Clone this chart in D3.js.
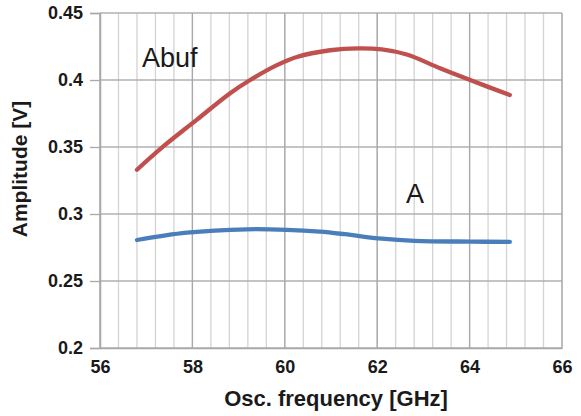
<!DOCTYPE html>
<html>
<head>
<meta charset="utf-8">
<script src="https://cdn.jsdelivr.net/npm/d3@7"></script>
<style>
  html, body { margin: 0; padding: 0; background: #fff; }
  svg { display: block; font-family: "Liberation Sans", Arial, sans-serif; }
</style>
</head>
<body>
<svg id="chart" width="581" height="416"></svg>
<script>
// Buffered output: oscillation frequency (GHz) and amplitude (V)
const abufFreq = [56.8, 57.37, 58.09, 58.81, 59.25, 59.83, 60.26, 60.98, 61.6, 62.1, 62.64, 63.36, 64.0, 64.87];
const abufAmp  = [0.333, 0.3504, 0.3702, 0.390, 0.400, 0.4111, 0.4172, 0.4222, 0.4236, 0.4228, 0.4190, 0.4088, 0.4001, 0.3888];
// Core output: oscillation frequency (GHz) and amplitude (V)
const aFreq = [56.8, 57.88, 59.18, 60.04, 60.76, 61.3, 62.1, 62.81, 64.04, 64.87];
const aAmp  = [0.2806, 0.2861, 0.2886, 0.2882, 0.2868, 0.2849, 0.2816, 0.2800, 0.2794, 0.2792];

const xTicks = [56, 58, 60, 62, 64, 66];
const yTicks = [0.2, 0.25, 0.3, 0.35, 0.4, 0.45];
const xMinor = d3.range(56, 66.001, 0.4).map(v => +v.toFixed(1));

const svg = d3.select("#chart");
const m = { left: 100, right: 19, top: 13, bottom: 68 };
const W = 581, H = 416;

const x = d3.scaleLinear().domain([56, 66]).range([m.left, W - m.right]);
const y = d3.scaleLinear().domain([0.2, 0.45]).range([H - m.bottom, m.top]);

const g = svg.append("g");

// minor vertical grid
g.selectAll("line.vminor").data(xMinor).enter().append("line")
  .attr("x1", d => x(d)).attr("x2", d => x(d))
  .attr("y1", y(0.2)).attr("y2", y(0.45))
  .attr("stroke", "#d3d3d3").attr("stroke-width", 1.3);

// horizontal grid
g.selectAll("line.h").data(yTicks).enter().append("line")
  .attr("x1", x(56)).attr("x2", x(66))
  .attr("y1", d => y(d)).attr("y2", d => y(d))
  .attr("stroke", "#b0b0b0").attr("stroke-width", 1.3);

// major vertical grid
g.selectAll("line.vmajor").data(xTicks).enter().append("line")
  .attr("x1", d => x(d)).attr("x2", d => x(d))
  .attr("y1", y(0.2)).attr("y2", y(0.45))
  .attr("stroke", "#a8a8a8").attr("stroke-width", 1.3);

// axes
const xAxis = d3.axisBottom(x).tickValues(xTicks).tickSize(0).tickPadding(12).tickFormat(d3.format("d"));
const yAxis = d3.axisLeft(y).tickValues(yTicks).tickSize(10).tickPadding(7).tickFormat(d => String(+d.toFixed(2)));

const gx = svg.append("g").attr("transform", `translate(0,${y(0.2)})`).call(xAxis);
gx.select(".domain").attr("stroke", "#a8a8a8").attr("stroke-width", 1.5);
gx.selectAll("text").attr("font-size", 18).attr("font-weight", "bold").attr("fill", "#1a1a1a");

const gy = svg.append("g").attr("transform", `translate(${x(56)},0)`).call(yAxis);
gy.select(".domain").attr("stroke", "#a8a8a8").attr("stroke-width", 1.5);
gy.selectAll(".tick line").attr("stroke", "#a8a8a8").attr("stroke-width", 1.3);
gy.selectAll("text").attr("font-size", 18).attr("font-weight", "bold").attr("fill", "#1a1a1a");

// axis titles
svg.append("text").attr("x", (x(56) + x(66)) / 2 + 5).attr("y", 406)
  .attr("text-anchor", "middle").attr("font-size", 22).attr("font-weight", "bold")
  .attr("fill", "#1a1a1a").text("Osc. frequency [GHz]");
svg.append("text").attr("transform", "translate(27,169) rotate(-90)")
  .attr("text-anchor", "middle").attr("font-size", 21).attr("font-weight", "bold")
  .attr("fill", "#1a1a1a").text("Amplitude [V]");

// curves
const line = d3.line().curve(d3.curveCatmullRom.alpha(0.5));
const series = [
  { f: abufFreq, v: abufAmp, color: "#c0504d" },
  { f: aFreq, v: aAmp, color: "#4a7ebb" }
];
series.forEach(s => {
  svg.append("path")
    .attr("d", line(s.f.map((f, i) => [x(f), y(s.v[i])])))
    .attr("fill", "none").attr("stroke", s.color)
    .attr("stroke-width", 4.3).attr("stroke-linecap", "round").attr("stroke-linejoin", "round");
});

// series labels
svg.append("text").attr("x", 142).attr("y", 67).attr("font-size", 27)
  .attr("fill", "#1a1a1a").text("Abuf");
svg.append("text").attr("x", 406).attr("y", 203).attr("font-size", 27)
  .attr("fill", "#1a1a1a").text("A");
</script>
</body>
</html>
